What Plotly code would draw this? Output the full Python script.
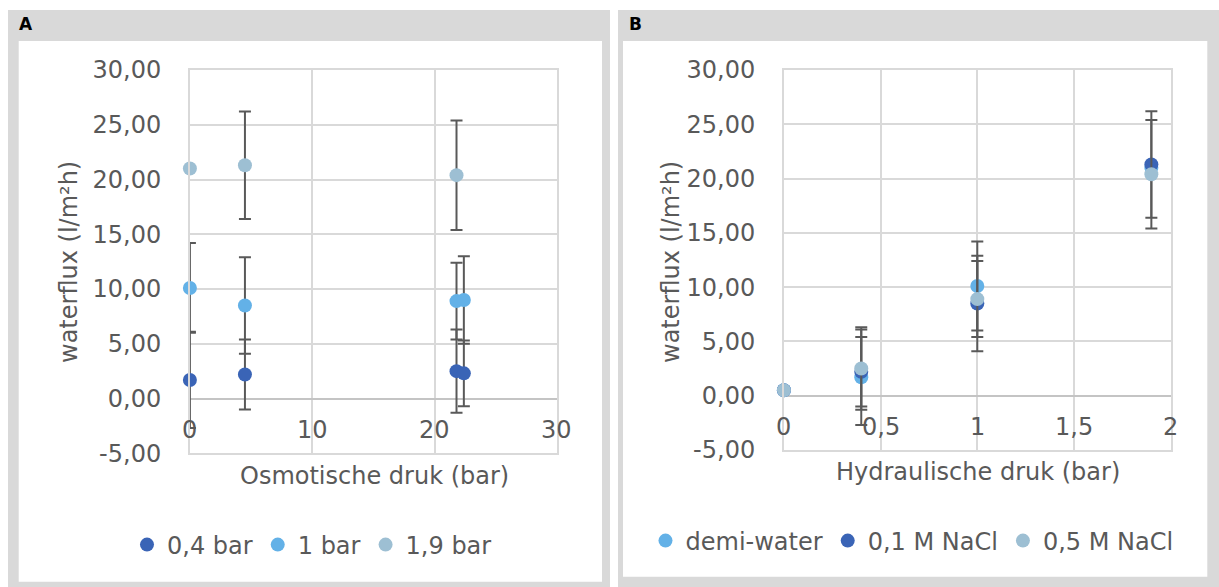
import plotly.graph_objects as go

# ---- data -------------------------------------------------------------
# Panel A: water flux vs. osmotic pressure, one series per hydraulic pressure
osm_x_04 = [0, 4.5, 21.8, 22.4]
flux_04 = [1.7, 2.2, 2.5, 2.3]
err_04 = [4.4, 3.2, 3.8, 3.0]

osm_x_1 = [0, 4.5, 21.8, 22.4]
flux_1 = [10.1, 8.5, 8.9, 9.0]
err_1 = [4.1, 4.4, 3.5, 4.0]

osm_x_19 = [0, 4.5, 21.8]
flux_19 = [21.0, 21.3, 20.4]
err_19 = [0, 4.9, 5.0]

# Panel B: water flux vs. hydraulic pressure, one series per feed solution
hyd_x = [0, 0.4, 1, 1.9]
flux_demi = [0.5, 1.7, 10.1, 21.0]
err_demi = [0, 4.4, 4.1, 0]
flux_01M = [0.5, 2.2, 8.5, 21.3]
err_01M = [0, 3.2, 4.4, 4.9]
flux_05M = [0.5, 2.5, 8.9, 20.4]
err_05M = [0, 3.8, 3.5, 5.0]

series_names_a = ["0,4 bar", "1 bar", "1,9 bar"]
series_names_b = ["demi-water", "0,1 M NaCl", "0,5 M NaCl"]

y_tick_vals = [-5, 0, 5, 10, 15, 20, 25, 30]
y_tick_text = ["-5,00", "0,00", "5,00", "10,00", "15,00", "20,00", "25,00", "30,00"]
xa_tick_vals = [0, 10, 20, 30]
xa_tick_text = ["0", "10", "20", "30"]
xb_tick_vals = [0, 0.5, 1, 1.5, 2]
xb_tick_text = ["0", "0,5", "1", "1,5", "2"]

# ---- styling ----------------------------------------------------------
W, H = 1219, 587
DARK = "#3A64B6"
LIGHT = "#63B1E7"
GREY_BLUE = "#9DBFD3"
TEXT = "#595959"
FRAME = "#D9D9D9"
GRID = "#D9D9D9"
FONT = "DejaVu Sans"
FS = 24


def px(x):
    return x / W


def py(y):
    return 1 - y / H


def err(values):
    return dict(type="data", array=values, symmetric=True,
                color="#595959", thickness=2, width=6)


def series(x, y, e, name, color, xa, ya, legend):
    return go.Scatter(
        x=x, y=y, name=name, mode="markers",
        marker=dict(color=color, size=14, line=dict(width=0)),
        error_y=err(e), xaxis=xa, yaxis=ya, legend=legend,
        cliponaxis=False,
    )


fig = go.Figure()
fig.add_trace(series(osm_x_04, flux_04, err_04, series_names_a[0], DARK, "x", "y", "legend"))
fig.add_trace(series(osm_x_1, flux_1, err_1, series_names_a[1], LIGHT, "x", "y", "legend"))
fig.add_trace(series(osm_x_19, flux_19, err_19, series_names_a[2], GREY_BLUE, "x", "y", "legend"))

fig.add_trace(series(hyd_x, flux_demi, err_demi, series_names_b[0], LIGHT, "x2", "y2", "legend2"))
fig.add_trace(series(hyd_x, flux_01M, err_01M, series_names_b[1], DARK, "x2", "y2", "legend2"))
fig.add_trace(series(hyd_x, flux_05M, err_05M, series_names_b[2], GREY_BLUE, "x2", "y2", "legend2"))

tick_font = dict(family=FONT, size=FS, color=TEXT)


def yaxis(domain, anchor):
    return dict(
        domain=domain, anchor=anchor, range=[-5, 30],
        tickvals=y_tick_vals, ticktext=y_tick_text,
        showgrid=True, gridcolor=GRID, gridwidth=1.8,
        zeroline=True, zerolinecolor="#C4C4C4", zerolinewidth=1.8,
        showline=True, linecolor=GRID, linewidth=1.8, mirror=True,
        ticks="", tickfont=tick_font, automargin=False,
        ticklabelstandoff=22, fixedrange=True,
    )


def xaxis(domain, anchor, rng, vals):
    return dict(
        domain=domain, anchor=anchor, range=rng,
        tickvals=vals, showticklabels=False,
        showgrid=True, gridcolor=GRID, gridwidth=1.8,
        zeroline=False, showline=True, linecolor=GRID, linewidth=1.8,
        mirror=True, ticks="", automargin=False, fixedrange=True,
    )


ya_dom = [py(453.3), py(70)]
yb_dom = [py(450), py(70)]

fig.update_layout(
    template="none",
    width=W, height=H,
    margin=dict(l=0, r=0, t=0, b=0, pad=0, autoexpand=False),
    paper_bgcolor="white", plot_bgcolor="white",
    font=dict(family=FONT, color=TEXT),
    xaxis=xaxis([px(189.9), px(556.8)], "y", [0, 30], xa_tick_vals),
    yaxis=yaxis(ya_dom, "x"),
    xaxis2=xaxis([px(783.9), px(1170.7)], "y2", [0, 2], xb_tick_vals),
    yaxis2=yaxis(yb_dom, "x2"),
    legend=dict(
        orientation="h", x=px(312), xanchor="center", y=py(545), yanchor="middle",
        font=dict(family=FONT, size=FS, color=TEXT), bgcolor="rgba(0,0,0,0)",
        itemwidth=30,
    ),
    legend2=dict(
        orientation="h", x=px(912), xanchor="center", y=py(541), yanchor="middle",
        font=dict(family=FONT, size=FS, color=TEXT), bgcolor="rgba(0,0,0,0)",
        itemwidth=30,
    ),
    showlegend=True,
)

# panel frames: grey border with a white chart area inside
frames = [
    (8, 10, 610, H, 18.7, 41, 602, 581.7),
    (618, 10, W, H, 623, 41, 1207.3, 576.7),
]
for gx0, gy0, gx1, gy1, wx0, wy0, wx1, wy1 in frames:
    fig.add_shape(type="rect", xref="paper", yref="paper", layer="below",
                  x0=px(gx0), x1=px(gx1), y0=py(gy1), y1=py(gy0),
                  fillcolor=FRAME, line=dict(width=0))
    fig.add_shape(type="rect", xref="paper", yref="paper", layer="below",
                  x0=px(wx0), x1=px(wx1), y0=py(wy1), y1=py(wy0),
                  fillcolor="white", line=dict(width=0))

# category labels of the horizontal axes sit just below the y = 0 line
for xref, yref, vals, texts in (("x", "y", xa_tick_vals, xa_tick_text),
                                ("x2", "y2", xb_tick_vals, xb_tick_text)):
    for v, t in zip(vals, texts):
        fig.add_annotation(x=v, y=0, xref=xref, yref=yref, text=t,
                           showarrow=False, xanchor="center", yanchor="middle",
                           yshift=-31, font=tick_font)

annotations = [
    dict(text="<b>A</b>", x=px(17), y=py(24), xanchor="left", yanchor="middle",
         font=dict(family=FONT, size=17, color="black")),
    dict(text="<b>B</b>", x=px(627), y=py(24), xanchor="left", yanchor="middle",
         font=dict(family=FONT, size=17, color="black")),
    dict(text="waterflux (l/m²h)", x=px(69), y=py(262), textangle=-90,
         xanchor="center", yanchor="middle",
         font=dict(family=FONT, size=FS, color=TEXT)),
    dict(text="waterflux (l/m²h)", x=px(671), y=py(262), textangle=-90,
         xanchor="center", yanchor="middle",
         font=dict(family=FONT, size=FS, color=TEXT)),
    dict(text="Osmotische druk (bar)", x=px(374), y=py(476),
         xanchor="center", yanchor="middle",
         font=dict(family=FONT, size=FS, color=TEXT)),
    dict(text="Hydraulische druk (bar)", x=px(978), y=py(472),
         xanchor="center", yanchor="middle",
         font=dict(family=FONT, size=FS, color=TEXT)),
]
for a in annotations:
    fig.add_annotation(xref="paper", yref="paper", showarrow=False, **a)

fig.write_html("out.html")
